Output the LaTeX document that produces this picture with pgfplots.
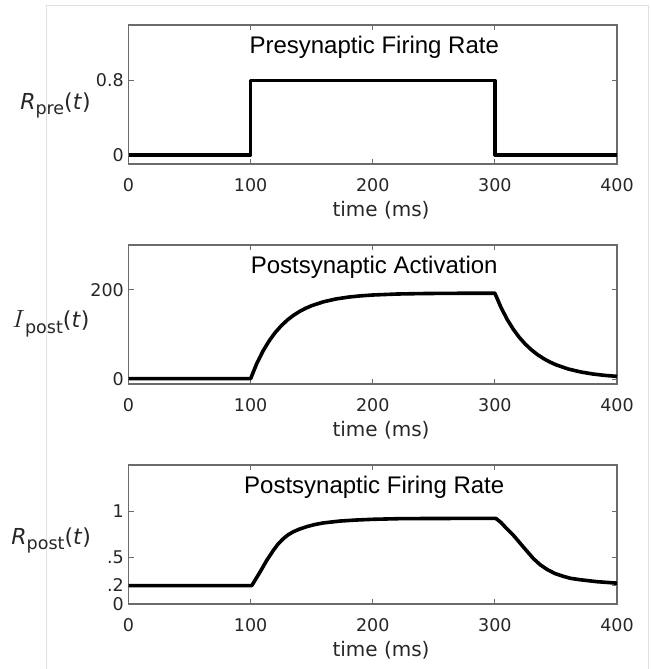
\documentclass[border=0pt]{standalone}
\usepackage{pgfplots}
\pgfplotsset{compat=1.18}
\usepackage{fontspec}
\setmainfont{DejaVu Sans}
\newfontfamily\titlefont{Liberation Sans}
\definecolor{axgray}{gray}{0.42}
\definecolor{tickc}{gray}{0.15}
\definecolor{framegray}{gray}{0.88}

\pgfplotsset{
  panel/.style={
    scale only axis, width=488.5pt, height=139pt,
    xmin=0, xmax=400, xtick={0,100,200,300,400},
    axis line style={axgray, line width=1.1pt},
    every tick/.style={axgray, line width=1.1pt},
    major tick length=5pt,
    tick align=inside,
    /pgf/number format/assume math mode=true,
    ticklabel style={font=\fontsize{17.5}{20}\selectfont, text=tickc, inner sep=0pt},
    xticklabel style={anchor=north, yshift=-14pt},
    yticklabel style={anchor=east, xshift=-4.5pt},
    xlabel={time (ms)},
    every axis x label/.style={at={(axis description cs:0.517,-0.331)}, anchor=center,
      font=\fontsize{20}{24}\selectfont, text=tickc},
    every axis y label/.style={anchor=base west, inner sep=0pt,
      font=\fontsize{22}{26}\selectfont, text=tickc},
  },
  dataline/.style={black, line width=3.6pt, line join=round, line cap=butt},
}
\newcommand{\ttl}[1]{\node[anchor=base, font=\titlefont\fontsize{24}{28}\selectfont] at (rel axis cs:0.503,0.795) {#1};}
\newcommand{\sub}[1]{\raisebox{-5.5pt}{\fontsize{17.5}{19}\selectfont #1}}

\begin{document}
\begin{tikzpicture}
\path (0,0) rectangle (652pt,-669pt);
\draw[framegray, line width=1pt] (46.7pt,-669pt) -- (46.7pt,-5.3pt) -- (648.3pt,-5.3pt) -- (648.3pt,-669pt);

% Panel 1
\begin{axis}[panel, at={(128.5pt,-164pt)}, anchor=south west,
  ymin=-0.1, ymax=1.4, ytick={0,0.8}, yticklabels={0,0.8},
  ylabel={\textit{R}\sub{pre}(\textit{t})},
  ylabel style={at={(axis description cs:-0.222,0.395)}}]
\addplot[dataline] coordinates {(0,0) (100,0) (100,0.8) (300,0.8) (300,0) (400,0)};
\ttl{Presynaptic Firing Rate}
\end{axis}

% Panel 2
\begin{axis}[panel, at={(128.5pt,-384pt)}, anchor=south west,
  ymin=-10, ymax=300, ytick={0,200}, yticklabels={0,200},
  ylabel={{\fontsize{25}{28}\selectfont$I$}\sub{post}(\textit{t})},
  ylabel style={at={(axis description cs:-0.238,0.405)}}]
\addplot[dataline] coordinates {
(0,2) (100,2) (105,35.4) (110,62.9) (115,85.5) (120,104.3) (125,119.7) (130,132.5)
(135,143.0) (140,151.7) (145,158.8) (150,164.7) (160,173.6) (170,179.7) (180,183.8)
(190,186.6) (200,188.5) (220,190.7) (240,191.7) (260,192.2) (280,192.4) (300,192.5)
(305,160.8) (310,134.4) (315,112.4) (320,94.0) (325,78.7) (330,66.0) (335,55.4)
(340,46.5) (345,39.1) (350,32.9) (360,23.5) (370,17.0) (380,12.4) (390,9.2) (400,7.0)};
\ttl{Postsynaptic Activation}
\end{axis}

% Panel 3
\begin{axis}[panel, at={(128.5pt,-604pt)}, anchor=south west,
  ymin=0, ymax=1.5, ytick={0,0.2,0.5,1}, yticklabels={0,.2,.5,1},
  ylabel={\textit{R}\sub{post}(\textit{t})},
  ylabel style={at={(axis description cs:-0.24,0.43)}}]
\addplot[dataline] coordinates {
(0,0.198) (100,0.198) (101,0.2) (107.7,0.345) (113.2,0.471) (118.6,0.579) (122.5,0.648)
(126.8,0.705) (130.5,0.745) (135,0.780) (140,0.808) (146,0.835) (152,0.856) (159.5,0.875)
(173,0.895) (186,0.906) (200,0.914) (222,0.921) (250,0.923) (300,0.924)
(301,0.922) (305,0.880) (309.7,0.813) (315.2,0.741) (323.4,0.614) (331.6,0.489)
(337,0.425) (342.5,0.375) (349,0.330) (356.2,0.298) (362,0.277) (369.8,0.262)
(383.5,0.241) (400,0.225)};
\ttl{Postsynaptic Firing Rate}
\end{axis}

\pgfresetboundingbox
\path[use as bounding box] (0,0) rectangle (652pt,-669pt);
\end{tikzpicture}
\end{document}
